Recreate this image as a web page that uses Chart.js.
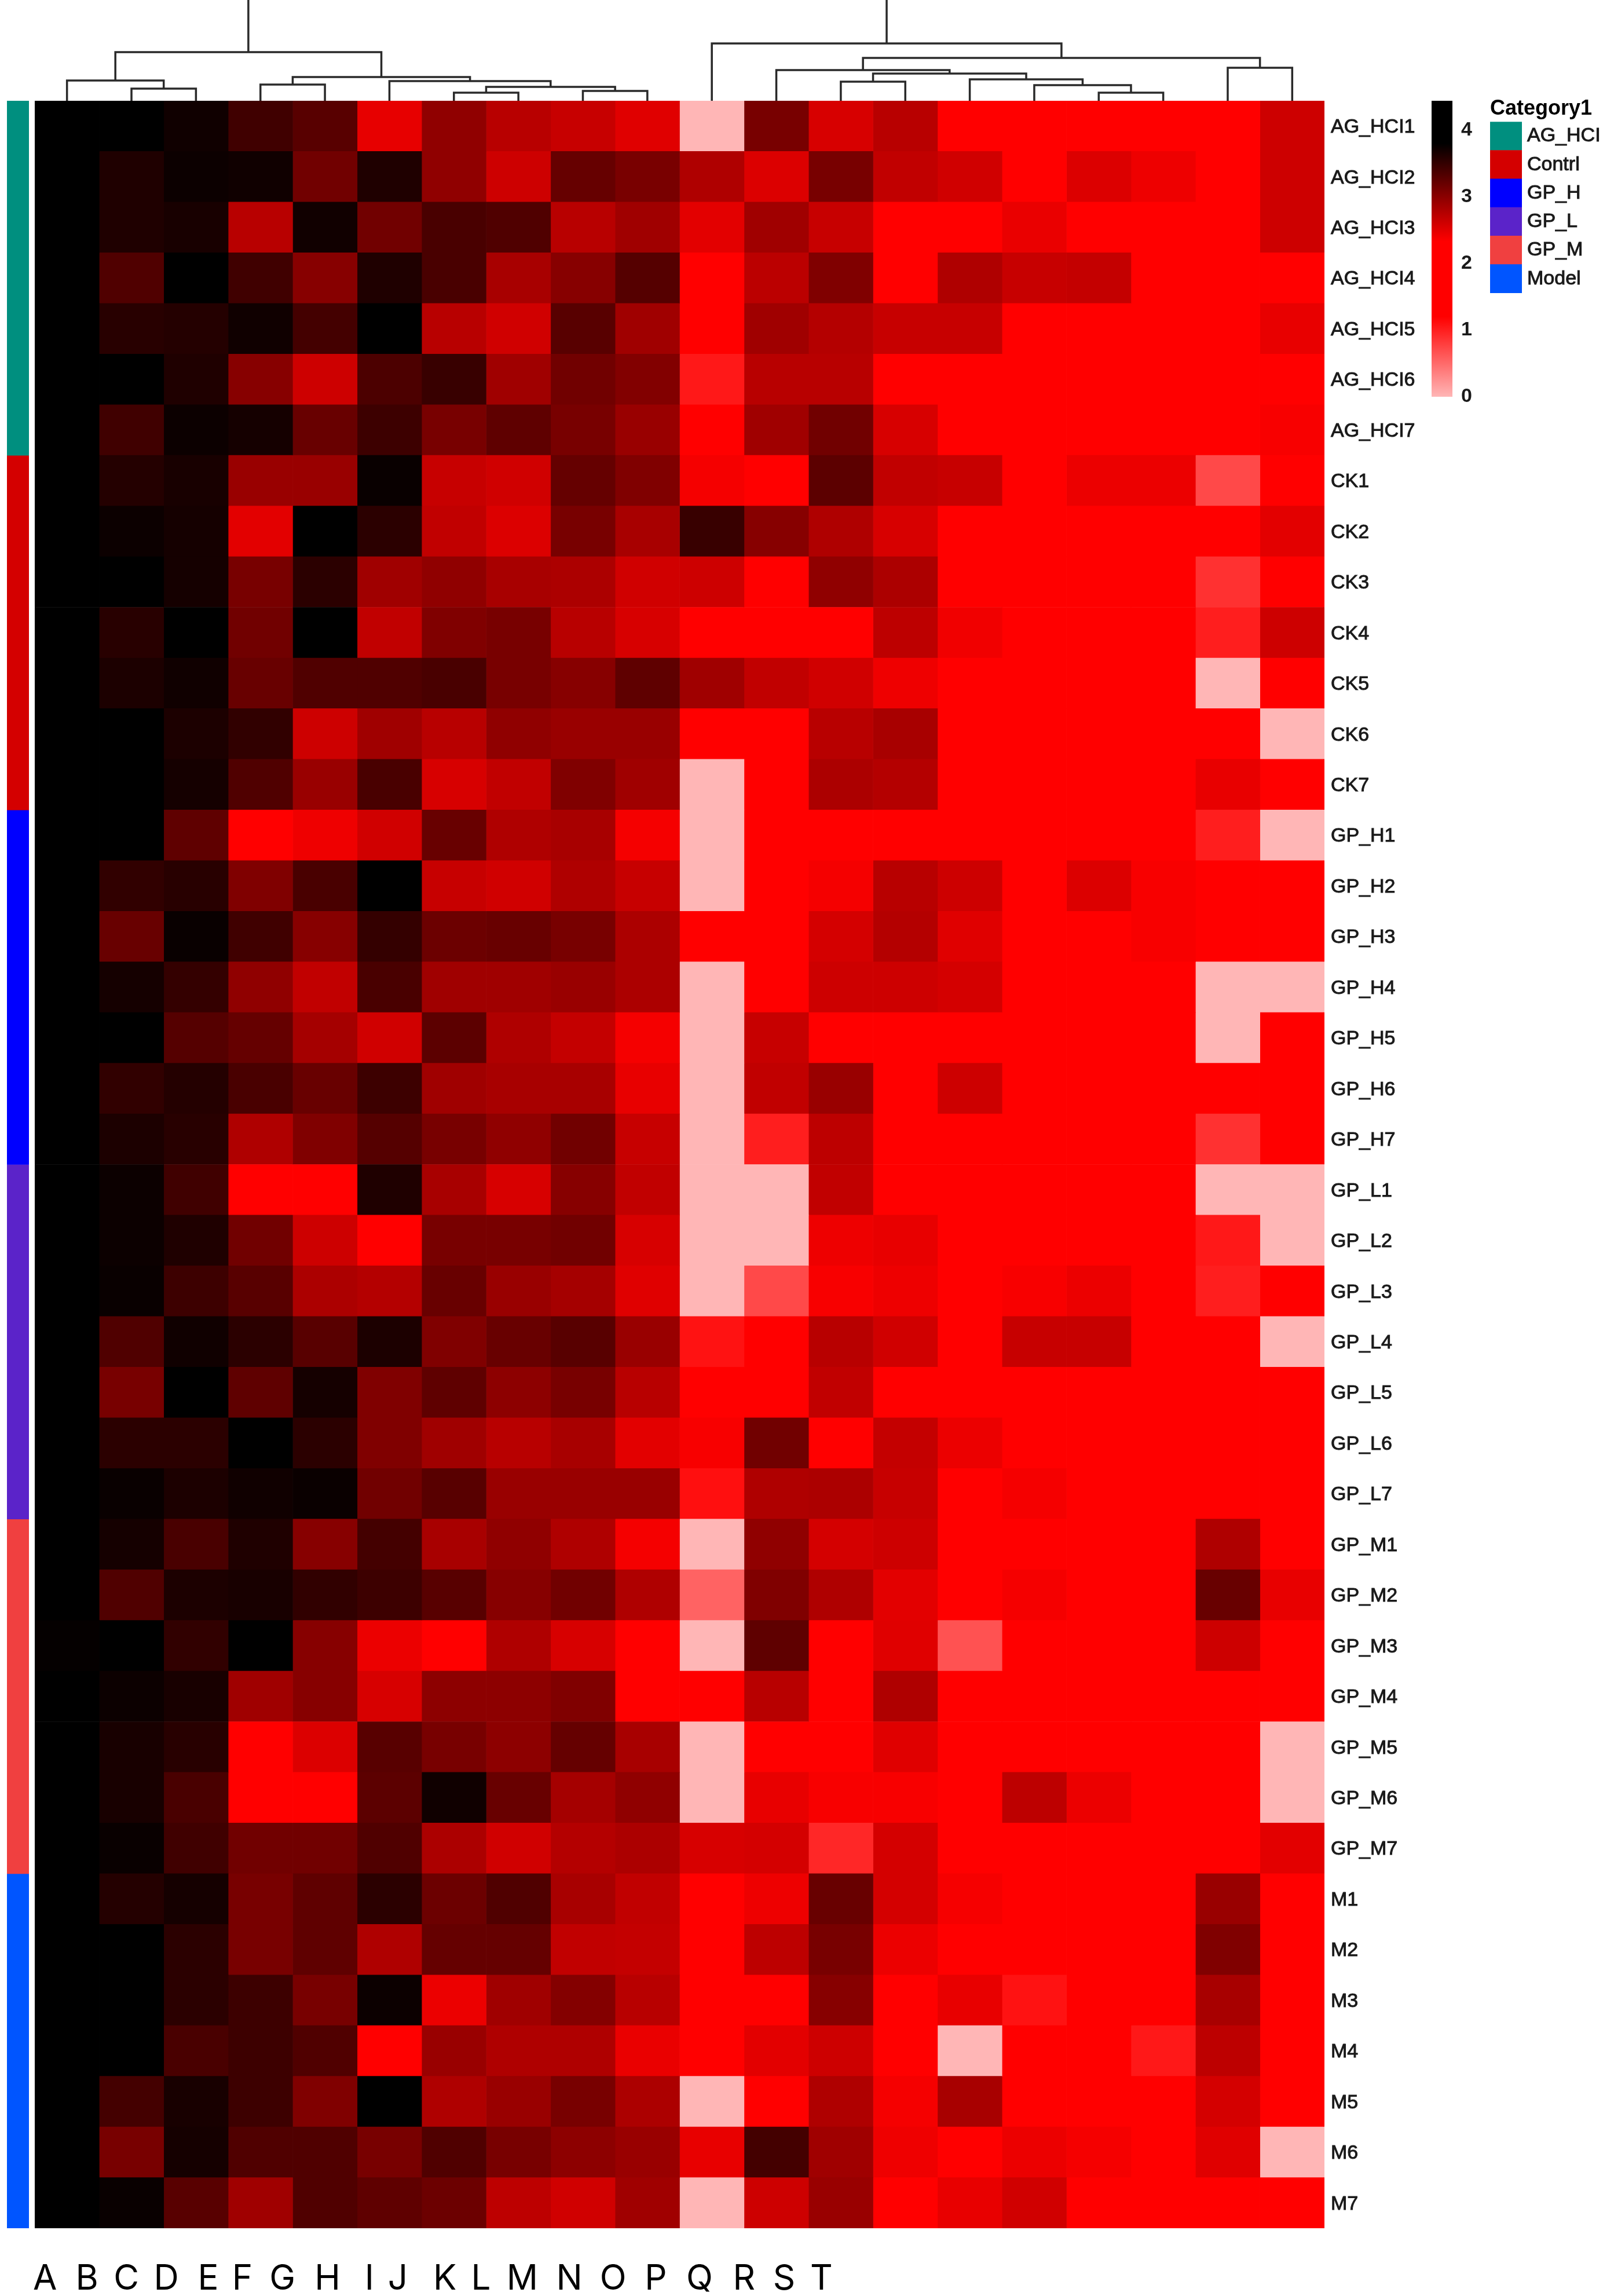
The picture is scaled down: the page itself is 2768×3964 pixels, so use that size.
<!DOCTYPE html>
<html lang="en">
<head>
<meta charset="UTF-8">
<title>Heatmap</title>
<script src="https://cdn.jsdelivr.net/npm/chart.js"></script>
<style>
    html, body { margin: 0; background: #fff; }
    body { position: relative; width: 2768px; height: 3964px; overflow: hidden; }
    canvas { position: absolute; }
    #main { left: 0; top: 0; }
    #dendro { left: 0; top: 0; }
    #side { left: 12px; top: 174px; }
    #scale { left: 2472px; top: 174px; }
    #legendBox { left: 2573px; top: 166px; }
</style>
</head>
<body>
<canvas id="main" width="2768" height="3964"></canvas>
<canvas id="dendro" width="2768" height="174"></canvas>
<canvas id="side" width="38" height="3673"></canvas>
<canvas id="scale" width="90" height="540"></canvas>
<canvas id="legendBox" width="195" height="340"></canvas>
<script>
const colLabels = ['A','B','C','D','E','F','G','H','I','J','K','L','M','N','O','P','Q','R','S','T'];
// where the letters sit under the heatmap, in column units (they do not line up with the cells)
const colLabelPos = [0.16,0.81,1.42,2.04,2.69,3.22,3.84,4.54,5.19,5.63,6.36,6.92,7.56,8.29,8.97,9.63,10.31,11,11.62,12.2];

const groupNames = ['AG_HCI','Contrl','GP_H','GP_L','GP_M','Model'];
const groupColors = ['#008f7f','#d40000','#0000ff','#5b23c9','#f04040','#0055ff'];
const groupSizes = [7,7,7,7,7,7];

const rowLabels = [
    'AG_HCI1','AG_HCI2','AG_HCI3','AG_HCI4','AG_HCI5','AG_HCI6','AG_HCI7',
    'CK1','CK2','CK3','CK4','CK5','CK6','CK7',
    'GP_H1','GP_H2','GP_H3','GP_H4','GP_H5','GP_H6','GP_H7',
    'GP_L1','GP_L2','GP_L3','GP_L4','GP_L5','GP_L6','GP_L7',
    'GP_M1','GP_M2','GP_M3','GP_M4','GP_M5','GP_M6','GP_M7',
    'M1','M2','M3','M4','M5','M6','M7'
];

const heatAG = [
    [4,4,3.71,3.43,3.29,2.47,2.97,2.74,2.65,2.51,0,3.11,2.56,2.74,2,2,2,2,2,2.62],
    [4,3.62,3.73,3.71,3.15,3.62,2.97,2.62,3.21,3.1,2.79,2.53,3.11,2.69,2.6,2,2.53,2.43,2,2.62],
    [4,3.62,3.66,2.74,3.7,3.15,3.38,3.34,2.74,2.88,2.49,2.88,2.65,2,2,2.45,2,2,2,2.62],
    [4,3.34,4,3.43,3.02,3.62,3.38,2.83,3.02,3.31,2,2.72,3.06,2,2.79,2.65,2.67,2,2,2],
    [4,3.57,3.59,3.71,3.41,4,2.74,2.6,3.29,2.88,2,2.88,2.76,2.65,2.65,2,2,2,2,2.46],
    [4,4,3.62,3.02,2.62,3.36,3.48,2.88,3.15,3.05,1.04,2.74,2.74,2,2,2,2,2,2,2],
    [4,3.43,3.73,3.68,3.2,3.45,3.11,3.25,3.11,2.92,2.3,2.88,3.15,2.56,2,2,2,2,2,2.37]
];
const heatCK = [
    [4,3.59,3.66,2.92,2.92,3.75,2.65,2.6,3.22,3.06,2.39,2,3.27,2.69,2.65,2,2.44,2.44,0.72,2],
    [4,3.73,3.68,2.49,4,3.55,2.69,2.53,3.11,2.83,3.48,3.02,2.79,2.56,2,2,2,2,2,2.49],
    [4,4,3.68,3.11,3.55,2.88,2.97,2.83,2.81,2.6,2.62,2,2.97,2.81,2,2,2,2,0.88,2],
    [4,3.57,4,3.15,4,2.69,3.06,3.11,2.74,2.56,2,2,2.3,2.71,2.41,2,2,2,1,2.62],
    [4,3.64,3.71,3.2,3.34,3.34,3.38,3.11,3.02,3.25,2.88,2.69,2.6,2.42,2,2,2,2,0,2],
    [4,4,3.64,3.52,2.62,2.88,2.74,2.97,2.92,2.92,2,2,2.74,2.83,2,2,2,2,2,0],
    [4,4,3.68,3.34,2.92,3.38,2.56,2.69,3.06,2.88,0,2,2.81,2.76,2.3,2,2,2,2.46,2]
];
const heatH = [
    [4,4,3.25,2,2.42,2.6,3.2,2.79,2.83,2.39,0,2,2,2,2,2,2,2,1,0],
    [4,3.52,3.57,3.06,3.38,4,2.65,2.6,2.79,2.65,0,2,2.39,2.74,2.62,2,2.53,2.37,2,2],
    [4,3.2,3.75,3.43,3.02,3.5,3.18,3.2,3.11,2.81,2,2,2.58,2.76,2.51,2,2,2.37,2,2],
    [4,3.68,3.5,2.97,2.69,3.38,2.88,2.88,2.92,2.81,0,2,2.62,2.62,2.58,2,2,2,0,0],
    [4,4,3.31,3.22,2.85,2.6,3.27,2.79,2.67,2.39,0,2.65,2,2,2,2,2,2,0,2],
    [4,3.52,3.59,3.38,3.2,3.45,2.88,2.83,2.83,2.46,0,2.69,2.92,2,2.62,2,2,2,2,2],
    [4,3.64,3.57,2.79,3.06,3.31,3.11,2.97,3.15,2.65,0,1,2.71,2,2,2,2,2,0.88,2]
];
const heatL = [
    [4,3.73,3.43,2,2,3.62,2.83,2.56,3.02,2.69,0,0,2.69,2,2,2,2,2,0,0],
    [4,3.73,3.62,3.15,2.62,2,3.11,3.11,3.15,2.56,0,0,2.43,2.46,2,2.3,2,2,1.04,0],
    [4,3.75,3.45,3.29,2.81,2.76,3.2,2.92,2.85,2.51,0,0.72,2.37,2.43,2,2.37,2.44,2,1,2],
    [4,3.34,3.71,3.55,3.29,3.64,3.06,3.2,3.29,2.92,1.08,2,2.74,2.6,2,2.65,2.65,2,2,0],
    [4,3.11,4,3.25,3.68,3.06,3.25,2.99,3.11,2.74,2,2,2.69,2,2,2,2,2,2,2],
    [4,3.55,3.55,4,3.55,3.06,2.88,2.74,2.83,2.49,2.37,3.15,2,2.67,2.44,2,2,2,2,2],
    [4,3.75,3.64,3.71,3.74,3.15,3.29,2.92,2.92,2.92,1.1,2.79,2.81,2.65,2,2.39,2,2,2,2]
];
const heatM = [
    [4,3.68,3.38,3.62,3.02,3.41,2.83,2.97,2.79,2.39,0,2.97,2.58,2.62,2,2,2,2,2.79,2],
    [4,3.34,3.64,3.66,3.52,3.45,3.29,3.02,3.15,2.79,0.55,3.06,2.79,2.49,2,2.39,2,2,3.2,2.46],
    [3.77,4,3.52,4,3.02,2.44,2.3,2.79,2.56,2,0,3.25,2,2.51,0.66,2,2,2,2.62,2],
    [4,3.73,3.66,2.88,3.02,2.56,2.99,2.99,3.06,2,2,2.74,2,2.79,2,2,2,2,2,2],
    [4,3.66,3.57,2,2.53,3.29,3.11,2.99,3.22,2.83,0,2,2,2.51,2,2,2,2,2,0],
    [4,3.66,3.38,2,2,3.27,3.71,3.2,2.85,2.97,0,2.46,2.37,2.37,2,2.71,2.44,2,2,0],
    [4,3.75,3.43,3.15,3.15,3.34,2.81,2.6,2.76,2.81,2.56,2.58,0.94,2.58,2,2,2,2,2,2.49]
];
const heatModel = [
    [4,3.59,3.68,3.11,3.25,3.55,3.18,3.34,2.83,2.69,2,2.43,3.2,2.58,2.38,2,2,2,2.92,2],
    [4,4,3.55,3.11,3.25,2.79,3.22,3.22,2.69,2.67,2,2.71,3.11,2.44,2,2,2,2,3.06,2],
    [4,4,3.55,3.45,3.11,3.73,2.44,2.88,3.04,2.74,2,2,3.02,2,2.46,1.08,2,2,2.83,2],
    [4,4,3.38,3.45,3.34,2,2.92,2.79,2.79,2.45,2.3,2.49,2.62,2,0,2,2,1.04,2.71,2],
    [4,3.41,3.66,3.45,3.06,4,2.79,2.92,3.11,2.81,0,2,2.79,2.39,2.83,2,2,2,2.58,2],
    [4,3.11,3.68,3.34,3.34,3.11,3.34,3.11,2.99,2.92,2.46,3.41,2.88,2.42,2,2.44,2.39,2,2.51,0],
    [4,3.75,3.29,2.88,3.34,3.25,3.18,2.71,2.6,2.88,0,2.62,2.92,2,2.46,2.6,2,2,2,2]
];
const heatRows = [...heatAG, ...heatCK, ...heatH, ...heatL, ...heatM, ...heatModel];

const scaleTicks = [0,1,2,3,4];
const scaleMax = 4.44;
const colorStops = [[0,[255,182,182]],[1.2,[255,0,0]],[2.33,[255,0,0]],[3.8,[0,0,0]],[scaleMax,[0,0,0]]];

// dendrogram merges: [left, right, height]. ids below 20 are columns, 20+ means merge number id-20
const merges = [
    [1,2,2.1],[0,20,3.5],
    [3,4,2.8],[6,7,1.4],[8,9,1.7],[23,24,2.4],[5,25,3.4],[22,26,4.1],
    [21,27,8.4],
    [16,17,1.4],[15,29,2.7],[14,30,3.7],[12,13,3.3],[32,31,4.7],[11,33,5.3],[18,19,5.7],[34,35,7.4],[10,36,9.9]
];
const dendroRoots = [28,37];
const dendroTop = 17.4;

function heatColor(v) {
    for (let i = 1; i < colorStops.length; i++) {
        if (v <= colorStops[i][0]) {
            const [a, ca] = colorStops[i - 1], [b, cb] = colorStops[i];
            const t = (v - a) / (b - a);
            return 'rgb(' + ca.map((c, k) => Math.round(c + (cb[k] - c) * t)).join(',') + ')';
        }
    }
    return '#000';
}

const textColor = '#1a1a1a';
const rowFont = { family: 'Liberation Sans', size: 34 };
Chart.defaults.animation = false;
Chart.defaults.responsive = false;
Chart.defaults.plugins.legend.display = false;
Chart.defaults.plugins.tooltip.enabled = false;

// heatmap: one stacked dataset per column, one horizontal bar per row
new Chart(document.getElementById('main'), {
    type: 'bar',
    data: {
        labels: rowLabels,
        datasets: colLabels.map((name, c) => ({
            label: name,
            data: rowLabels.map(() => 1),
            backgroundColor: ctx => heatColor(heatRows[ctx.dataIndex][c]),
            barPercentage: 1,
            categoryPercentage: 1
        }))
    },
    options: {
        indexAxis: 'y',
        layout: { padding: { left: 60, top: 174, right: 0, bottom: 0 } },
        scales: {
            x: {
                type: 'linear', stacked: true, min: 0, max: 20,
                grid: { display: false }, border: { display: false },
                afterBuildTicks: axis => { axis.ticks = colLabelPos.map(v => ({ value: v })); },
                afterFit: axis => { axis.height = 117; },
                ticks: {
                    autoSkip: false, maxRotation: 0, padding: 44, color: '#000',
                    font: { family: 'Inter', size: 60, weight: '400' },
                    callback: (v, i) => colLabels[i]
                }
            },
            y: {
                type: 'category', position: 'right', stacked: true,
                grid: { display: false, drawTicks: false }, border: { display: false },
                afterFit: axis => { axis.width = 481; },
                ticks: {
                    autoSkip: false, padding: 11, labelOffset: 2, color: textColor, font: rowFont,
                    textStrokeColor: textColor, textStrokeWidth: 1
                }
            }
        }
    }
});

// top dendrogram, each merge is one little U shaped line on the same column units
function nodePos(id) {
    if (id < 20) return { x: id + 0.5, h: 0 };
    const m = merges[id - 20];
    return { x: (nodePos(m[0]).x + nodePos(m[1]).x) / 2, h: m[2] };
}
const dendroSets = merges.map(m => {
    const a = nodePos(m[0]), b = nodePos(m[1]);
    return { data: [{ x: a.x, y: a.h }, { x: a.x, y: m[2] }, { x: b.x, y: m[2] }, { x: b.x, y: b.h }] };
});
dendroRoots.forEach(id => {
    const n = nodePos(id);
    dendroSets.push({ data: [{ x: n.x, y: n.h }, { x: n.x, y: dendroTop }] });
});
new Chart(document.getElementById('dendro'), {
    type: 'scatter',
    data: {
        datasets: dendroSets.map(d => ({
            ...d, showLine: true, borderColor: '#2a2a2a', borderWidth: 3.5, pointRadius: 0, tension: 0
        }))
    },
    options: {
        layout: { padding: { left: 60, right: 481, top: 0, bottom: 0 } },
        scales: {
            x: { type: 'linear', min: 0, max: 20, display: false },
            y: { type: 'linear', min: 0, max: dendroTop, display: false }
        }
    }
});

// group strip on the left
new Chart(document.getElementById('side'), {
    type: 'bar',
    data: {
        labels: ['group'],
        datasets: groupNames.map((name, i) => ({
            label: name, data: [groupSizes[i]], backgroundColor: groupColors[i],
            barPercentage: 1, categoryPercentage: 1
        }))
    },
    options: {
        scales: {
            x: { stacked: true, display: false },
            y: { stacked: true, reverse: true, min: 0, max: rowLabels.length, display: false }
        }
    }
});

// the y axes below would otherwise shrink the plot to leave room for half a label
const noLabelPadding = axis => { axis.paddingTop = 0; axis.paddingBottom = 0; };

// colour scale bar
new Chart(document.getElementById('scale'), {
    type: 'bar',
    data: {
        labels: ['value'],
        datasets: [{
            data: [[0, scaleMax]],
            barPercentage: 1, categoryPercentage: 1,
            backgroundColor: ctx => {
                const chart = ctx.chart;
                if (!chart.chartArea) return '#000';
                const y = chart.scales.y;
                const grad = chart.ctx.createLinearGradient(0, y.getPixelForValue(0), 0, y.getPixelForValue(scaleMax));
                colorStops.forEach(s => grad.addColorStop(s[0] / scaleMax, heatColor(s[0])));
                return grad;
            }
        }]
    },
    options: {
        layout: { padding: { bottom: 29 } },
        scales: {
            x: { display: false },
            y: {
                position: 'right', min: 0, max: scaleMax,
                grid: { display: false, drawTicks: false }, border: { display: false },
                afterFit: axis => { axis.width = 54; noLabelPadding(axis); },
                afterBuildTicks: axis => { axis.ticks = scaleTicks.map(v => ({ value: v })); },
                ticks: { padding: 15, color: textColor, font: { family: 'Liberation Sans', size: 34, weight: 'bold' } }
            }
        }
    }
});

// category legend, swatches are bars and names are the axis labels
new Chart(document.getElementById('legendBox'), {
    type: 'bar',
    data: {
        labels: groupNames,
        datasets: [{
            data: groupNames.map(() => 1), backgroundColor: groupColors,
            barPercentage: 1, categoryPercentage: 1
        }]
    },
    options: {
        indexAxis: 'y',
        plugins: {
            title: {
                display: true, text: 'Category1', align: 'start', color: '#000',
                font: { family: 'Liberation Sans', size: 36, weight: 'bold' },
                padding: { top: 0, bottom: 1 }
            }
        },
        scales: {
            x: { display: false, min: 0, max: 1 },
            y: {
                position: 'right',
                grid: { display: false, drawTicks: false }, border: { display: false },
                afterFit: axis => { axis.width = 140; noLabelPadding(axis); },
                ticks: {
                    autoSkip: false, padding: 9, color: textColor, font: rowFont,
                    textStrokeColor: textColor, textStrokeWidth: 1
                }
            }
        }
    }
});
</script>
</body>
</html>
